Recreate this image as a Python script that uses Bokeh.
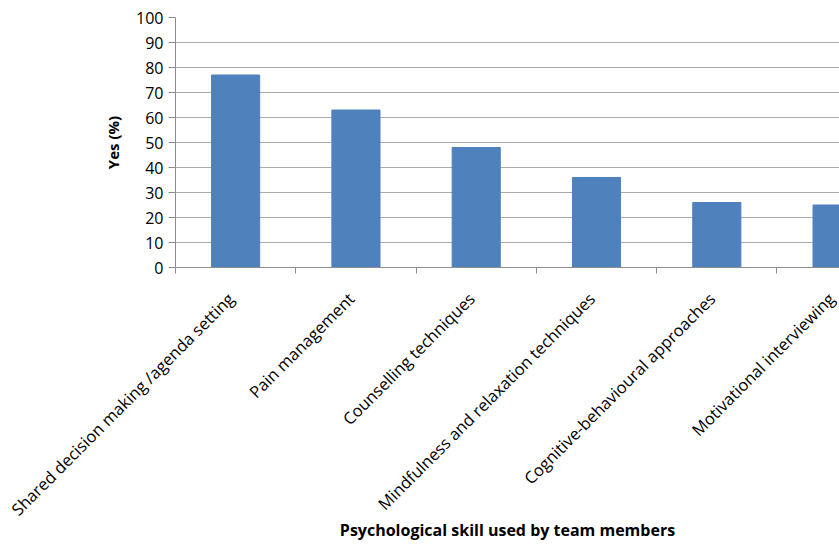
import math
from bokeh.plotting import figure
from bokeh.models import Range1d, FixedTicker
from bokeh.embed import file_html
from bokeh.resources import INLINE

categories = [
    "Shared decision making /agenda setting",
    "Pain management",
    "Counselling techniques",
    "Mindfulness and relaxation techniques",
    "Cognitive-behavioural approaches",
    "Motivational interviewing",
]
values = [77, 63, 48, 36, 26, 25]
y_ticks = list(range(0, 101, 10))
x_title = "Psychological skill used by team members"
y_title = "Yes (%)"

centers = [i + 0.5 for i in range(len(categories))]
bounds = list(range(len(categories) + 1))
label_pos = [c - 0.04 for c in centers]

FONT = "Open Sans"
GRID = "#ABABAB"
AXIS = "#8C8C8C"

p = figure(
    width=839, height=544,
    x_range=Range1d(0, 5.52), y_range=Range1d(0, 100),
    output_backend="svg", toolbar_location=None,
    min_border_left=175, min_border_top=17, min_border_right=0, min_border_bottom=277,
)
p.vbar(x=centers, top=values, width=0.4, fill_color="#4F81BD", line_color="#4F81BD")

p.outline_line_color = None
p.background_fill_color = "white"
p.border_fill_color = "white"

p.xgrid.visible = False
p.ygrid.grid_line_color = GRID
p.ygrid.grid_line_width = 1

# x axis
xa = p.xaxis[0]
xa.ticker = FixedTicker(ticks=label_pos, minor_ticks=bounds)
xa.major_label_overrides = {c: n for c, n in zip(label_pos, categories)}
xa.major_label_orientation = math.pi / 4
xa.major_tick_line_color = None
xa.minor_tick_line_color = AXIS
xa.minor_tick_out = 6
xa.minor_tick_in = 0
xa.axis_line_color = AXIS
xa.major_label_text_font = FONT
xa.major_label_text_font_size = "16.5px"
xa.major_label_text_color = "black"
xa.major_label_standoff = 22
xa.axis_label = x_title
xa.axis_label_text_font = FONT
xa.axis_label_text_font_size = "16px"
xa.axis_label_text_font_style = "bold"
xa.axis_label_text_color = "black"
xa.axis_label_standoff = -12

# y axis
ya = p.yaxis[0]
ya.ticker = FixedTicker(ticks=y_ticks)
ya.minor_tick_line_color = None
ya.major_tick_line_color = AXIS
ya.major_tick_out = 7
ya.major_tick_in = 0
ya.axis_line_color = AXIS
ya.major_label_text_font = FONT
ya.major_label_text_font_size = "16px"
ya.major_label_text_color = "black"
ya.major_label_standoff = 5
ya.axis_label = y_title
ya.axis_label_text_font = FONT
ya.axis_label_text_font_size = "15px"
ya.axis_label_text_font_style = "bold"
ya.axis_label_text_color = "black"
ya.axis_label_standoff = 10

open("out.html", "w").write(file_html(p, INLINE))
